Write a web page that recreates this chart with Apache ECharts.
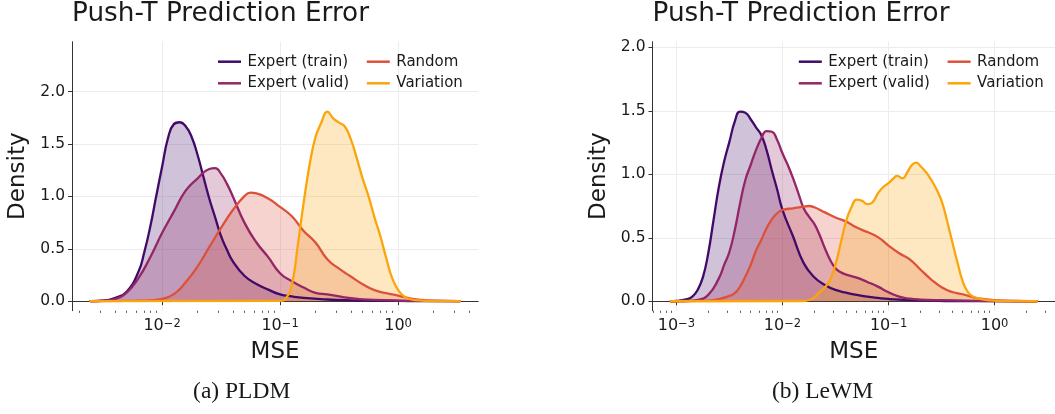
<!DOCTYPE html>
<html><head><meta charset="utf-8">
<script src="https://cdn.jsdelivr.net/npm/echarts@6/dist/echarts.min.js"></script>
<style>html,body{margin:0;padding:0;background:#fff}#c{width:1055px;height:414px}</style>
</head><body><div id="c"></div>
<script>
// ---- data: [log10(MSE), density] ----
const seriesNames = ['Expert (train)', 'Expert (valid)', 'Random', 'Variation'];

const pldmTrain = [[-2.607,0],[-2.5,0.005],[-2.4,0.03],[-2.3,0.09],[-2.2,0.28],[-2.15,0.47],[-2.1,0.71],[-2.05,1.0],[-2.0,1.28],[-1.95,1.555],[-1.9,1.69],[-1.85,1.708],[-1.8,1.67],[-1.75,1.57],[-1.7,1.40],[-1.65,1.19],[-1.6,0.98],[-1.55,0.80],[-1.5,0.62],[-1.45,0.49],[-1.4,0.38],[-1.3,0.24],[-1.2,0.165],[-1.1,0.11],[-1.0,0.065],[-0.9,0.045],[-0.8,0.031],[-0.6,0.016],[-0.4,0.008],[-0.2,0.004],[0,0.002],[0.2,0.001],[0.523,0]];
const pldmValid = [[-2.607,0],[-2.5,0.004],[-2.4,0.02],[-2.3,0.082],[-2.2,0.22],[-2.1,0.42],[-2.0,0.65],[-1.9,0.855],[-1.8,1.055],[-1.7,1.17],[-1.6,1.262],[-1.55,1.27],[-1.5,1.215],[-1.45,1.12],[-1.4,1.0],[-1.3,0.745],[-1.2,0.56],[-1.1,0.42],[-1.0,0.267],[-0.9,0.19],[-0.8,0.13],[-0.7,0.08],[-0.6,0.065],[-0.5,0.045],[-0.4,0.028],[-0.3,0.018],[-0.2,0.012],[0,0.006],[0.2,0.003],[0.523,0]];
const pldmRandom = [[-2.607,0],[-2.3,0.002],[-2.2,0.004],[-2.1,0.008],[-2.0,0.022],[-1.9,0.067],[-1.8,0.18],[-1.7,0.33],[-1.6,0.515],[-1.5,0.70],[-1.4,0.87],[-1.3,1.005],[-1.25,1.036],[-1.2,1.03],[-1.1,0.98],[-1.0,0.90],[-0.9,0.81],[-0.8,0.67],[-0.7,0.56],[-0.6,0.40],[-0.5,0.31],[-0.4,0.235],[-0.3,0.162],[-0.2,0.105],[-0.1,0.076],[0,0.054],[0.1,0.026],[0.2,0.012],[0.3,0.005],[0.523,0]];
const pldmVariation = [[-2.607,0],[-1.0,0.003],[-0.95,0.028],[-0.9,0.155],[-0.85,0.53],[-0.8,0.94],[-0.75,1.30],[-0.7,1.565],[-0.65,1.705],[-0.6,1.81],[-0.55,1.745],[-0.5,1.705],[-0.45,1.665],[-0.4,1.545],[-0.35,1.365],[-0.3,1.17],[-0.25,1.0],[-0.2,0.80],[-0.15,0.62],[-0.1,0.41],[-0.05,0.22],[0,0.108],[0.05,0.045],[0.1,0.02],[0.2,0.005],[0.3,0.001],[0.523,0]];

const lewmTrain = [[-3.053,0],[-3.0,0.002],[-2.9,0.016],[-2.85,0.036],[-2.8,0.089],[-2.75,0.19],[-2.7,0.378],[-2.65,0.64],[-2.6,0.90],[-2.55,1.10],[-2.5,1.257],[-2.45,1.414],[-2.4,1.493],[-2.35,1.485],[-2.3,1.433],[-2.25,1.37],[-2.2,1.31],[-2.15,1.19],[-2.1,1.03],[-2.05,0.88],[-2.0,0.72],[-1.9,0.51],[-1.8,0.30],[-1.7,0.189],[-1.6,0.128],[-1.5,0.089],[-1.4,0.068],[-1.3,0.05],[-1.2,0.036],[-1.1,0.026],[-1.0,0.018],[-0.8,0.009],[-0.6,0.005],[-0.4,0.002],[0,0.001],[0.397,0]];
const lewmValid = [[-3.053,0],[-2.9,0.002],[-2.8,0.01],[-2.7,0.05],[-2.6,0.18],[-2.55,0.286],[-2.5,0.39],[-2.45,0.56],[-2.4,0.77],[-2.35,0.955],[-2.3,1.073],[-2.25,1.19],[-2.2,1.283],[-2.15,1.34],[-2.1,1.335],[-2.05,1.27],[-2.0,1.165],[-1.95,1.073],[-1.9,0.968],[-1.85,0.85],[-1.8,0.732],[-1.75,0.666],[-1.7,0.609],[-1.65,0.522],[-1.6,0.417],[-1.55,0.325],[-1.5,0.26],[-1.45,0.228],[-1.4,0.21],[-1.3,0.186],[-1.2,0.152],[-1.1,0.115],[-1.0,0.071],[-0.9,0.036],[-0.8,0.02],[-0.7,0.013],[-0.5,0.008],[-0.3,0.005],[0,0.002],[0.397,0]];
const lewmRandom = [[-3.053,0],[-2.8,0.003],[-2.7,0.005],[-2.6,0.016],[-2.5,0.042],[-2.45,0.063],[-2.4,0.115],[-2.35,0.194],[-2.3,0.286],[-2.25,0.398],[-2.2,0.483],[-2.15,0.575],[-2.1,0.645],[-2.05,0.693],[-2.0,0.719],[-1.9,0.732],[-1.8,0.745],[-1.75,0.75],[-1.7,0.74],[-1.6,0.70],[-1.5,0.66],[-1.4,0.628],[-1.3,0.58],[-1.2,0.545],[-1.1,0.505],[-1.0,0.438],[-0.9,0.378],[-0.8,0.33],[-0.7,0.25],[-0.6,0.173],[-0.5,0.11],[-0.4,0.073],[-0.3,0.055],[-0.2,0.031],[-0.1,0.016],[0,0.008],[0.2,0.002],[0.397,0]];
const lewmVariation = [[-3.053,0],[-1.8,0.002],[-1.75,0.01],[-1.7,0.03],[-1.65,0.072],[-1.6,0.11],[-1.55,0.17],[-1.5,0.29],[-1.45,0.46],[-1.4,0.63],[-1.35,0.74],[-1.3,0.80],[-1.25,0.79],[-1.2,0.765],[-1.15,0.78],[-1.1,0.85],[-1.05,0.90],[-1.0,0.93],[-0.95,0.97],[-0.92,0.987],[-0.87,0.968],[-0.82,1.02],[-0.78,1.073],[-0.74,1.091],[-0.7,1.065],[-0.65,1.02],[-0.6,0.96],[-0.55,0.885],[-0.5,0.79],[-0.45,0.64],[-0.4,0.47],[-0.35,0.305],[-0.3,0.155],[-0.25,0.07],[-0.2,0.035],[-0.1,0.013],[0,0.004],[0.2,0.001],[0.397,0]];

const pldmMajorTicks = [0.01, 0.1, 1];
const lewmMajorTicks = [0.001, 0.01, 0.1, 1];
const densityTicks = [0, 0.5, 1.0, 1.5, 2.0];
const captions = ['(a) PLDM', '(b) LeWM'];
const titleText = 'Push-T Prediction Error';

// ---- styling / layout ----
const colors = ['#420a68', '#932667', '#dd513a', '#fca50a'];
const FONT = 'DejaVu Sans';
const INK = '#1a1a1a';
const AX = '#333333';
const GRIDC = '#ececec';

const panels = [
  {left: 72, width: 406.2, xMin: Math.pow(10, -2.763), xMax: Math.pow(10, 0.679), yMin: -0.091, yMax: 2.477,
   majors: pldmMajorTicks, data: [pldmTrain, pldmValid, pldmRandom, pldmVariation],
   legendX: [218, 366.8], captionX: 241.7},
  {left: 652.5, width: 406.8, xMin: Math.pow(10, -3.2255), xMax: Math.pow(10, 0.5695), yMin: -0.0745, yMax: 2.044,
   majors: lewmMajorTicks, data: [lewmTrain, lewmValid, lewmRandom, lewmVariation],
   legendX: [798.8, 947.6], captionX: 822.5}
];
const GRID_TOP = 41.7, GRID_H = 269;

function minorTicks(lo, hi) {
  const out = [];
  for (let k = Math.floor(Math.log10(lo)); k <= Math.ceil(Math.log10(hi)); k++) {
    for (let m = 2; m <= 9; m++) {
      const v = m * Math.pow(10, k);
      if (v >= lo && v <= hi) out.push(v);
    }
  }
  return out;
}
function supLabel(v) {
  const e = Math.round(Math.log10(v));
  return '{b|10}{s|' + (e < 0 ? '\u2212' : '') + Math.abs(e) + '}';
}

const grid = [], xAxis = [], yAxis = [], series = [], legend = [], title = [], graphic = [];
panels.forEach((p, pi) => {
  grid.push({left: p.left, top: GRID_TOP, width: p.width, height: GRID_H, containLabel: false});
  xAxis.push({
    type: 'log', logBase: 10, gridIndex: pi, position: 'bottom', min: p.xMin, max: p.xMax,
    axisLine: {show: true, lineStyle: {color: AX, width: 1}},
    axisTick: {show: true, customValues: p.majors, length: 4, lineStyle: {color: AX, width: 1}},
    axisLabel: {show: true, customValues: p.majors, formatter: supLabel, margin: 7, color: INK,
      rich: {
        b: {fontSize: 16, fontFamily: FONT, color: INK, lineHeight: 16, padding: [4, 0, 0, 0], verticalAlign: 'bottom'},
        s: {fontSize: 11.5, fontFamily: FONT, color: INK, lineHeight: 12, verticalAlign: 'top'}
      }},
    splitLine: {show: true, lineStyle: {color: GRIDC, width: 1}},
    minorTick: {show: false}, minorSplitLine: {show: false},
    name: 'MSE', nameLocation: 'middle', nameGap: 30,
    nameTextStyle: {fontSize: 23, fontFamily: FONT, color: INK}
  });
  xAxis.push({
    type: 'log', logBase: 10, gridIndex: pi, position: 'bottom', min: p.xMin, max: p.xMax,
    axisLine: {show: false},
    axisTick: {show: true, customValues: minorTicks(p.xMin, p.xMax), length: 2.2, lineStyle: {color: AX, width: 0.8}},
    axisLabel: {show: false}, splitLine: {show: false}
  });
  yAxis.push({
    type: 'value', gridIndex: pi, min: p.yMin, max: p.yMax,
    axisLine: {show: true, lineStyle: {color: AX, width: 1}},
    axisTick: {show: true, customValues: densityTicks, length: 4, lineStyle: {color: AX, width: 1}},
    axisLabel: {show: true, customValues: densityTicks, formatter: v => v.toFixed(1), margin: 7,
      fontSize: 15.5, fontFamily: FONT, color: INK},
    splitLine: {show: true, lineStyle: {color: GRIDC, width: 1}},
    name: 'Density', nameLocation: 'middle', nameGap: 42, nameRotate: 90,
    nameTextStyle: {fontSize: 23, fontFamily: FONT, color: INK}
  });
  p.data.forEach((arr, si) => {
    series.push({
      type: 'line', name: seriesNames[si], xAxisIndex: pi * 2, yAxisIndex: pi,
      data: arr.map(d => [Math.pow(10, d[0]), d[1]]),
      showSymbol: false, symbol: 'none', smooth: 0.5,
      color: colors[si],
      lineStyle: {color: colors[si], width: 2.3, join: 'round', cap: 'round'},
      areaStyle: {color: colors[si], opacity: 0.25},
      itemStyle: {color: colors[si]},
      emphasis: {disabled: true}, silent: true
    });
    legend.push({
      data: [seriesNames[si]], left: p.legendX[si >> 1], top: (si % 2 === 0 ? 61.7 : 83.3) - 7.5,
      icon: 'rect', itemWidth: 23, itemHeight: 2.5, padding: 0, selectedMode: false,
      textStyle: {fontSize: 15, fontFamily: FONT, color: INK, padding: [0, 0, 0, 1.5]}
    });
  });
  title.push({text: titleText, left: p.left, top: 1.3, padding: 0,
    textStyle: {fontSize: 26.3, fontFamily: FONT, fontWeight: 'normal', color: INK}});
  graphic.push({type: 'text', x: p.captionX, y: 404, silent: true,
    style: {text: captions[pi], fontSize: 23.5, fontFamily: 'Liberation Serif', fill: INK,
            align: 'center', verticalAlign: 'bottom'}});
});

const chart = echarts.init(document.getElementById('c'), null, {renderer: 'canvas'});
chart.setOption({animation: false, backgroundColor: '#ffffff', grid, xAxis, yAxis, series, legend, title, graphic});
</script>
</body></html>
